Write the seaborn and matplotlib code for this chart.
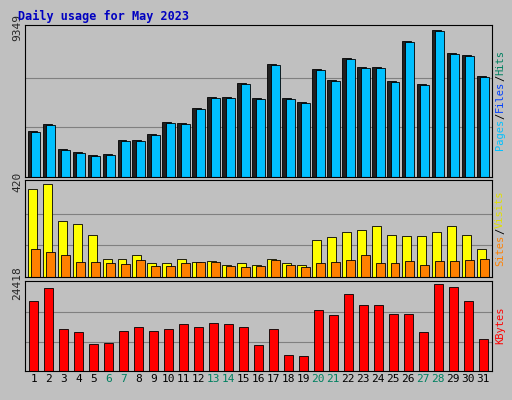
import numpy as np
import pandas as pd
import seaborn as sns
import matplotlib
matplotlib.use("Agg")
import matplotlib.pyplot as plt

days = list(range(1, 32))
hits_px = [130,123,148,151,154,153,139,139,133,121,122,107,96,96,82,97,63,97,101,68,79,57,66,66,80,40,83,29,52,54,75]
pages_px = [131,124,149,152,155,154,140,140,134,122,123,108,97,97,83,98,64,98,102,69,80,58,67,67,81,41,84,30,53,55,76]
visits_px = [189,184,221,224,234,258,258,254,262,262,258,261,260,264,262,264,258,262,264,239,236,232,230,226,234,235,235,232,226,234,248]
sites_px = [248,251,254,261,261,262,263,259,265,265,262,261,261,265,266,265,259,264,266,262,261,259,254,262,262,260,264,260,260,259,258]
kb_px = [302,289,329,332,344,343,331,327,331,329,324,327,323,324,327,345,329,354,355,311,315,295,306,306,314,314,332,285,288,302,339]

hits = [(176 - p) / 149 * 9349 for p in hits_px]
pages = [(176 - p) / 149 * 9349 for p in pages_px]
visits = [(276 - p) / 94 * 420 for p in visits_px]
sites = [(276 - p) / 94 * 420 for p in sites_px]
kbytes = [(370 - p) / 86 * 24418 for p in kb_px]
weekend = {6, 7, 13, 14, 20, 21, 27, 28}

sns.set_style("white")
plt.rcParams['font.family'] = ['DejaVu Sans Mono', 'DejaVu Sans']
W, H = 512, 400
fig = plt.figure(figsize=(5.12, 4.0), dpi=100, facecolor="#c0c0c0")

def ax_at(x0, y0, x1, y1):
    return fig.add_axes([x0 / W, 1 - y1 / H, (x1 - x0) / W, (y1 - y0) / H])

def panel(ax, ymax, series, top_label):
    ax.set_facecolor("#c0c0c0")
    for v in (ymax / 3, 2 * ymax / 3):
        ax.axhline(v, color="#808080", lw=0.8, zorder=0)
    for vals, off, col in series:
        df = pd.DataFrame({"x": np.array(days) + off, "y": vals})
        sns.barplot(data=df, x="x", y="y", native_scale=True, width=0.6,
                    color=col, edgecolor="black", linewidth=0.6, saturation=1, ax=ax, zorder=2)
    ax.set_xlim(0.4, 31.6)
    ax.set_ylim(0, ymax * 1.02)
    ax.set_xlabel(""); ax.set_ylabel("")
    ax.set_yticks([ymax]); ax.set_yticklabels([top_label], rotation=90, va="center", fontsize=8)
    ax.tick_params(length=0, pad=2)
    ax.set_xticks([])
    for s in ax.spines.values():
        s.set_color("black"); s.set_linewidth(0.8)

a1 = ax_at(25, 25, 492, 177)
panel(a1, 9349, [(hits, -0.12, "#202020"), (pages, 0.12, "#00c0ff")], "9349")
a2 = ax_at(25, 180, 492, 277)
panel(a2, 420, [(visits, -0.12, "#ffff00"), (sites, 0.12, "#ff8000")], "420")
a3 = ax_at(25, 281, 492, 371)
panel(a3, 24418, [(kbytes, 0, "#ff0000")], "24418")
a3.set_xticks(days)
a3.set_xticklabels([str(d) for d in days], fontsize=8)
for t, d in zip(a3.get_xticklabels(), days):
    t.set_color("#008060" if d in weekend else "black")

fig.text(18 / W, 1 - 16 / H, "Daily usage for May 2023", color="#0000c0", fontweight="bold",
         fontsize=8.5, va="center")

renderer = fig.canvas.get_renderer()

def side(ycenter, parts):
    texts = []
    for txt, col in parts:
        t = fig.text(0, 0, txt, color=col, rotation=90, fontsize=7.5,
                     ha="center", va="bottom")
        texts.append(t)
    heights = [t.get_window_extent(renderer).height for t in texts]
    y = ycenter + sum(heights) / 2  # pixel from top, bottom of stack
    for t, h in zip(texts, heights):
        t.set_position((500 / W, 1 - y / H))
        y -= h

side(100, [("Pages", "#00c0ff"), ("/", "black"), ("Files", "#0040ff"), ("/", "black"), ("Hits", "#008060")])
side(228, [("Sites", "#ff8000"), ("/", "black"), ("Visits", "#e0e000")])
side(325, [("KBytes", "#ff0000")])

fig.savefig("out.png", dpi=100, facecolor=fig.get_facecolor())
